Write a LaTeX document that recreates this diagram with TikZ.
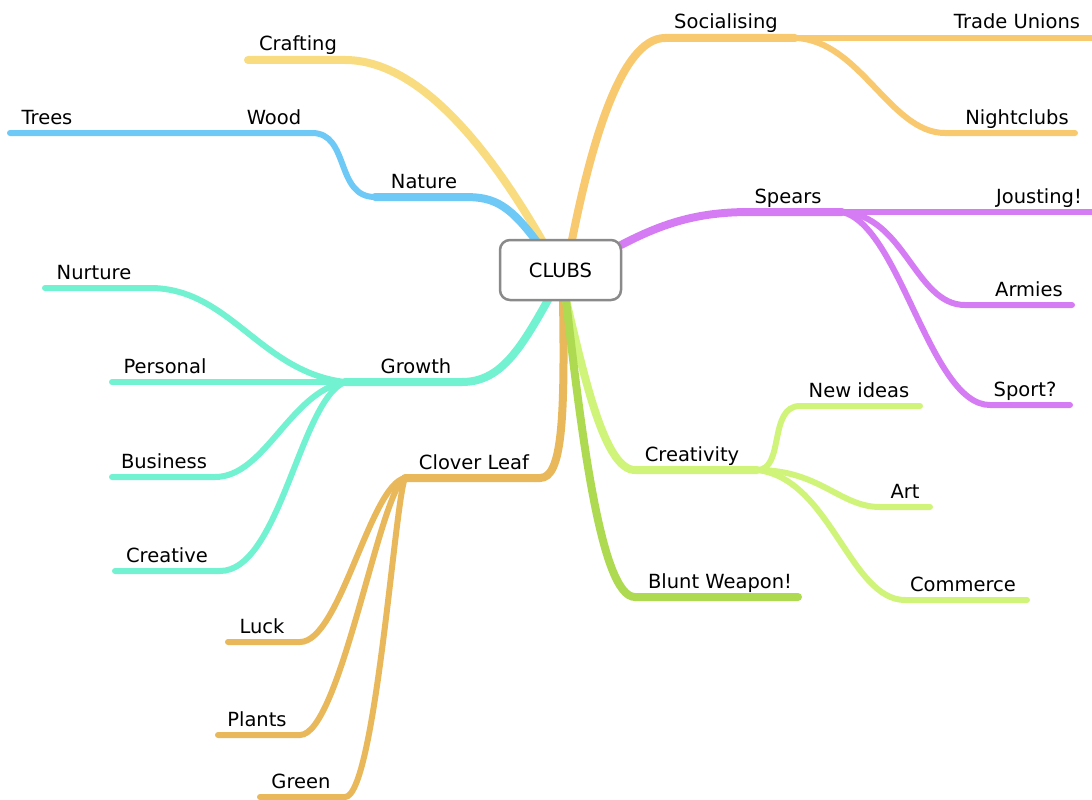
\documentclass[tikz,border=0pt]{standalone}
\usepackage{fontspec}
\setmainfont{DejaVu Sans}
\definecolor{cCraft}{HTML}{F9DC80}
\definecolor{cBlue}{HTML}{6EC9F7}
\definecolor{cTeal}{HTML}{72F2D0}
\definecolor{cClover}{HTML}{E8B85A}
\definecolor{cSocial}{HTML}{F9C970}
\definecolor{cSpear}{HTML}{D57CF4}
\definecolor{cCreat}{HTML}{D0F47A}
\definecolor{cBlunt}{HTML}{AEDA52}
\definecolor{cBox}{HTML}{8A8A8A}
\begin{document}
\begin{tikzpicture}[x=1pt,y=-1pt,
  branch/.style={line width=8pt,line cap=round},
  sub/.style={line width=6pt,line cap=round},
  lbl/.style={anchor=base,inner sep=0pt,font=\fontsize{19.5}{22}\selectfont},
  hub/.style={draw=cBox,line width=2.5pt,rounded corners=10pt,fill=white,
    minimum width=121pt,minimum height=60pt,font=\fontsize{19.5}{22}\selectfont}]
\useasboundingbox (0,0) rectangle (1092,800);
% coordinates
\coordinate (sCraft) at (543,242);
\coordinate (eCraft) at (345,60);
\coordinate (tCraft) at (248,60);
\coordinate (sNat) at (540,246);
\coordinate (eNat) at (465,197);
\coordinate (jNat) at (375,197);
\coordinate (eWood) at (312,133);
\coordinate (jWood) at (236,133);
\coordinate (tTrees) at (10,133);
\coordinate (sGro) at (548,300);
\coordinate (eGro) at (462,382);
\coordinate (jGro) at (345,382);
\coordinate (eNur) at (150,288);
\coordinate (tNur) at (45,288);
\coordinate (tPer) at (112,382);
\coordinate (eBus) at (215,477);
\coordinate (tBus) at (112,477);
\coordinate (eCre) at (220,571);
\coordinate (tCre) at (115,571);
\coordinate (sClo) at (563,300);
\coordinate (eClo) at (540,478);
\coordinate (jClo) at (405,478);
\coordinate (eLuck) at (300,642);
\coordinate (tLuck) at (228,642);
\coordinate (ePla) at (300,735);
\coordinate (tPla) at (218,735);
\coordinate (eGre) at (345,797);
\coordinate (tGre) at (260,797);
\coordinate (sSoc) at (572,240);
\coordinate (eSoc) at (665,38);
\coordinate (jSoc) at (795,38);
\coordinate (tTU) at (1095,38);
\coordinate (eNig) at (945,133);
\coordinate (tNig) at (1075,133);
\coordinate (sSpe) at (621,245);
\coordinate (eSpe) at (750,212);
\coordinate (jSpe) at (842,212);
\coordinate (tJou) at (1095,212);
\coordinate (eArm) at (965,305);
\coordinate (tArm) at (1072,305);
\coordinate (eSpo) at (990,405);
\coordinate (tSpo) at (1070,405);
\coordinate (sCrt) at (566,300);
\coordinate (eCrt) at (635,470);
\coordinate (jCrt) at (757,470);
\coordinate (eNew) at (800,406);
\coordinate (tNew) at (920,406);
\coordinate (eArt) at (880,507);
\coordinate (tArt) at (930,507);
\coordinate (eCom) at (905,600);
\coordinate (tCom) at (1027,600);
\coordinate (sBlu) at (566,300);
\coordinate (eBlu) at (635,597);
\coordinate (tBlu) at (798,597);
% branches
\draw[branch,cCraft] (sCraft) .. controls (490,150) and (420,60) .. (eCraft) -- (tCraft);
\draw[branch,cBlue] (sNat) .. controls (510,205) and (495,197) .. (eNat) -- (jNat);
\draw[sub,cBlue] (jNat) .. controls (335,197) and (350,133) .. (eWood) -- (jWood) -- (tTrees);
\draw[branch,cTeal] (sGro) .. controls (520,350) and (500,382) .. (eGro) -- (jGro);
\draw[sub,cTeal] (jGro) .. controls (260,372) and (230,288) .. (eNur) -- (tNur);
\draw[sub,cTeal] (jGro) -- (tPer);
\draw[sub,cTeal] (jGro) .. controls (290,392) and (265,477) .. (eBus) -- (tBus);
\draw[sub,cTeal] (jGro) .. controls (300,400) and (280,571) .. (eCre) -- (tCre);
\draw[branch,cClover] (sClo) .. controls (565,420) and (562,478) .. (eClo) -- (jClo);
\draw[sub,cClover] (jClo) .. controls (370,485) and (340,642) .. (eLuck) -- (tLuck);
\draw[sub,cClover] (jClo) .. controls (380,490) and (340,735) .. (ePla) -- (tPla);
\draw[sub,cClover] (jClo) .. controls (395,500) and (375,797) .. (eGre) -- (tGre);
\draw[branch,cSocial] (sSoc) .. controls (590,150) and (620,38) .. (eSoc) -- (jSoc);
\draw[sub,cSocial] (jSoc) -- (tTU);
\draw[sub,cSocial] (jSoc) .. controls (860,40) and (890,133) .. (eNig) -- (tNig);
\draw[branch,cSpear] (sSpe) .. controls (665,222) and (700,212) .. (eSpe) -- (jSpe);
\draw[sub,cSpear] (jSpe) -- (tJou);
\draw[sub,cSpear] (jSpe) .. controls (905,215) and (915,305) .. (eArm) -- (tArm);
\draw[sub,cSpear] (jSpe) .. controls (900,225) and (930,405) .. (eSpo) -- (tSpo);
\draw[branch,cCreat] (sCrt) .. controls (585,380) and (605,470) .. (eCrt) -- (jCrt);
\draw[sub,cCreat] (jCrt) .. controls (785,470) and (768,406) .. (eNew) -- (tNew);
\draw[sub,cCreat] (jCrt) .. controls (820,470) and (840,507) .. (eArt) -- (tArt);
\draw[sub,cCreat] (jCrt) .. controls (830,478) and (850,600) .. (eCom) -- (tCom);
\draw[branch,cBlunt] (sBlu) .. controls (580,420) and (600,597) .. (eBlu) -- (tBlu);
% central node
\node[hub] (clubs) at (560.5,270) {CLUBS};
% labels
\node[lbl] (crafting) at (298,51) {Crafting};
\node[lbl] (trees) at (47,124) {Trees};
\node[lbl] (wood) at (274,124) {Wood};
\node[lbl] (nature) at (424,188) {Nature};
\node[lbl] (nurture) at (94,279) {Nurture};
\node[lbl] (personal) at (165,373) {Personal};
\node[lbl] (growth) at (416,373) {Growth};
\node[lbl] (business) at (164,468) {Business};
\node[lbl] (creative) at (167,562) {Creative};
\node[lbl] (clover) at (474,469) {Clover Leaf};
\node[lbl] (luck) at (262,633) {Luck};
\node[lbl] (plants) at (257,726) {Plants};
\node[lbl] (green) at (301,788) {Green};
\node[lbl] (social) at (726,29) {Socialising};
\node[lbl] (trade) at (1017,29) {Trade Unions};
\node[lbl] (night) at (1017,124) {Nightclubs};
\node[lbl] (spears) at (788,203) {Spears};
\node[lbl] (joust) at (1039,203) {Jousting!};
\node[lbl] (armies) at (1029,296) {Armies};
\node[lbl] (sport) at (1025,396) {Sport?};
\node[lbl] (newid) at (859,397) {New ideas};
\node[lbl] (creativity) at (692,461) {Creativity};
\node[lbl] (art) at (905,498) {Art};
\node[lbl] (blunt) at (720,588) {Blunt Weapon!};
\node[lbl] (commerce) at (963,591) {Commerce};
\end{tikzpicture}
\end{document}
